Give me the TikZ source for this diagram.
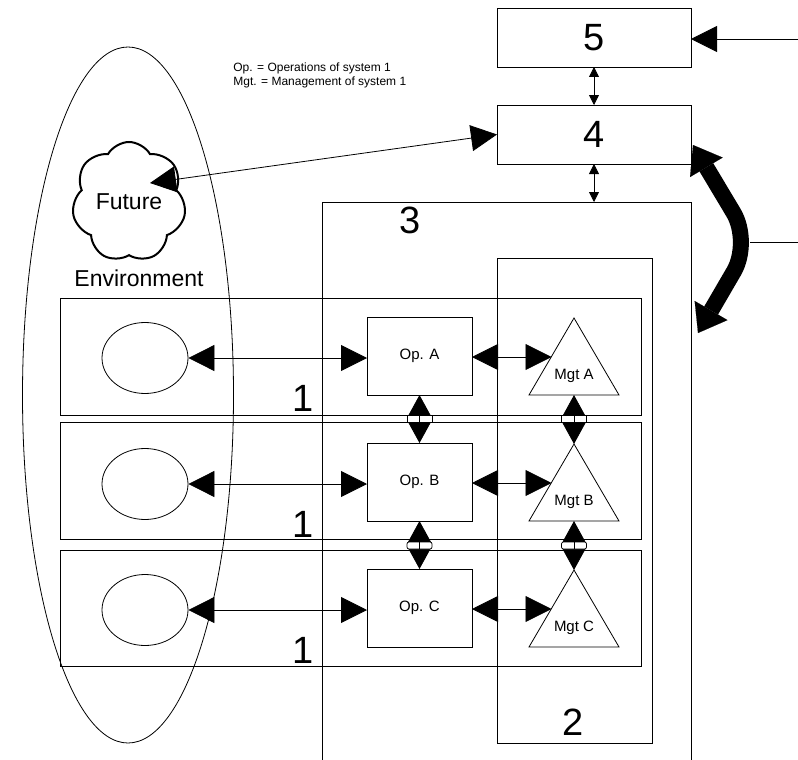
\documentclass[tikz,border=0pt]{standalone}
\usepackage{fontspec}
\setmainfont{Liberation Sans}
\usetikzlibrary{arrows.meta,shapes.geometric,shapes.symbols}
\begin{document}
\begin{tikzpicture}[x=1pt,y=-1pt,line width=0.8pt,
  box/.style={draw,inner sep=0pt,outer sep=0pt},
  big/.style={font=\fontsize{38}{40}\selectfont,inner sep=0pt},
  mid/.style={font=\fontsize{15}{17}\selectfont},
  sarrow/.style={{Triangle[length=10pt,width=10pt]}-{Triangle[length=10pt,width=10pt]}},
  barrow/.style={{Triangle[length=26pt,width=26pt]}-{Triangle[length=26pt,width=26pt]}},
  varrow/.style={{Triangle[length=23pt,width=25pt]}-{Triangle[length=23pt,width=25pt]}},
  gap/.style={draw,fill=white,minimum width=25pt,minimum height=7pt,inner sep=0pt,line width=0.7pt}]
\useasboundingbox (0,0) rectangle (798,760);

% environment
\node[draw,ellipse,minimum width=211pt,minimum height=696pt,inner sep=0pt] (env) at (128,395) {};
\node[font=\fontsize{23}{25}\selectfont,inner sep=0pt] (envlbl) at (139,278) {Environment};
\node[draw,cloud,cloud puffs=7,cloud puff arc=120,aspect=1,minimum width=114pt,minimum height=120pt,
      line width=2pt,inner sep=0pt,font=\fontsize{23}{25}\selectfont] (fut) at (129,202) {Future};

% legend
\node[anchor=west,font=\fontsize{12}{14}\selectfont,inner sep=0pt] (n1) at (233,68) {Op. = Operations of system 1};
\node[anchor=west,font=\fontsize{12}{14}\selectfont,inner sep=0pt] (n2) at (233,82) {Mgt. = Management of system 1};

% systems 5 and 4
\node[box,minimum width=194pt,minimum height=59pt,big] (b5) at (594,37.5) {5};
\node[box,minimum width=194pt,minimum height=59pt,big] (b4) at (594,134.5) {4};

% systems 3 and 2
\node[box,minimum width=369pt,minimum height=600pt] (b3) at (506.5,502) {};
\node[big] (l3) at (410,220) {3};
\node[box,minimum width=155pt,minimum height=485pt] (b2) at (574.5,500.5) {};
\node[big] (l2) at (573,722) {2};

% rows (system 1)
\node[box,minimum width=581pt,minimum height=117pt] (rowA) at (350.5,356.5) {};
\node[box,minimum width=581pt,minimum height=117pt] (rowB) at (350.5,480.5) {};
\node[box,minimum width=581pt,minimum height=116pt] (rowC) at (350.5,608) {};

\foreach \r/\dy in {A/0,B/126,C/252} {
  \node[box,minimum width=105pt,minimum height=78pt,mid] (op\r) at (419.5,356+\dy) {Op. \r};
  \node[draw,ellipse,minimum width=86pt,minimum height=71pt,inner sep=0pt] (el\r) at (145,358+\dy) {};
  \coordinate (mt\r) at (574,318+\dy);
  \coordinate (mb\r) at (574,395+\dy);
  \coordinate (ml\r) at (551.5,357+\dy);
  \draw (mt\r) -- (619,395+\dy) -- (529,395+\dy) -- cycle;
  \node[mid] (mg\r) at (574,376+\dy) {Mgt \r};
  \node[big] (one\r) at (303,398+\dy) {1};
  \draw[barrow] (el\r.east) -- (el\r.east -| op\r.west);
  \draw[barrow] (op\r.east |- ml\r) -- (ml\r);
}

% vertical links between rows
\draw[varrow] (opA.south) -- (opB.north);
\draw[varrow] (opB.south) -- (opC.north);
\draw[varrow] (mbA) -- (mtB);
\draw[varrow] (mbB) -- (mtC);
\node[gap] (g1) at (419.5,418.5) {}; \draw[line width=0.6pt] (g1.north) -- (g1.south);
\node[gap] (g2) at (574,418.5) {};   \draw[line width=0.6pt] (g2.north) -- (g2.south);
\node[gap,rounded corners=2pt] (g3) at (419.5,545.5) {}; \draw[line width=0.6pt] (g3.north) -- (g3.south);
\node[gap,rounded corners=2pt] (g4) at (574,545.5) {};   \draw[line width=0.6pt] (g4.north) -- (g4.south);

% links among 5, 4, 3
\draw[sarrow] (b5.south) -- (b4.north);
\draw[sarrow] (b4.south) -- (b4.south |- b3.north);
\coordinate (in5) at (800,39);
\draw[-{Triangle[length=26pt,width=26pt]}] (in5) -- (in5 -| b5.east);
\coordinate (futtip) at (150,183);
\draw[barrow] (b4.west) -- (futtip);

% thick curved arrow
\coordinate (tk1) at (693,145);
\coordinate (tkm) at (751,242);
\coordinate (tk2) at (698,333);
\draw[line width=16pt,rounded corners=34pt,
  {Triangle[length=26pt,width=38pt,line width=0.1pt]}-{Triangle[length=26pt,width=38pt,line width=0.1pt]}]
  (tk1) -- (tkm) -- (tk2);
\coordinate (tkr) at (800,242);
\coordinate (tke) at (750,242);
\draw (tkr) -- (tke);
\end{tikzpicture}
\end{document}
